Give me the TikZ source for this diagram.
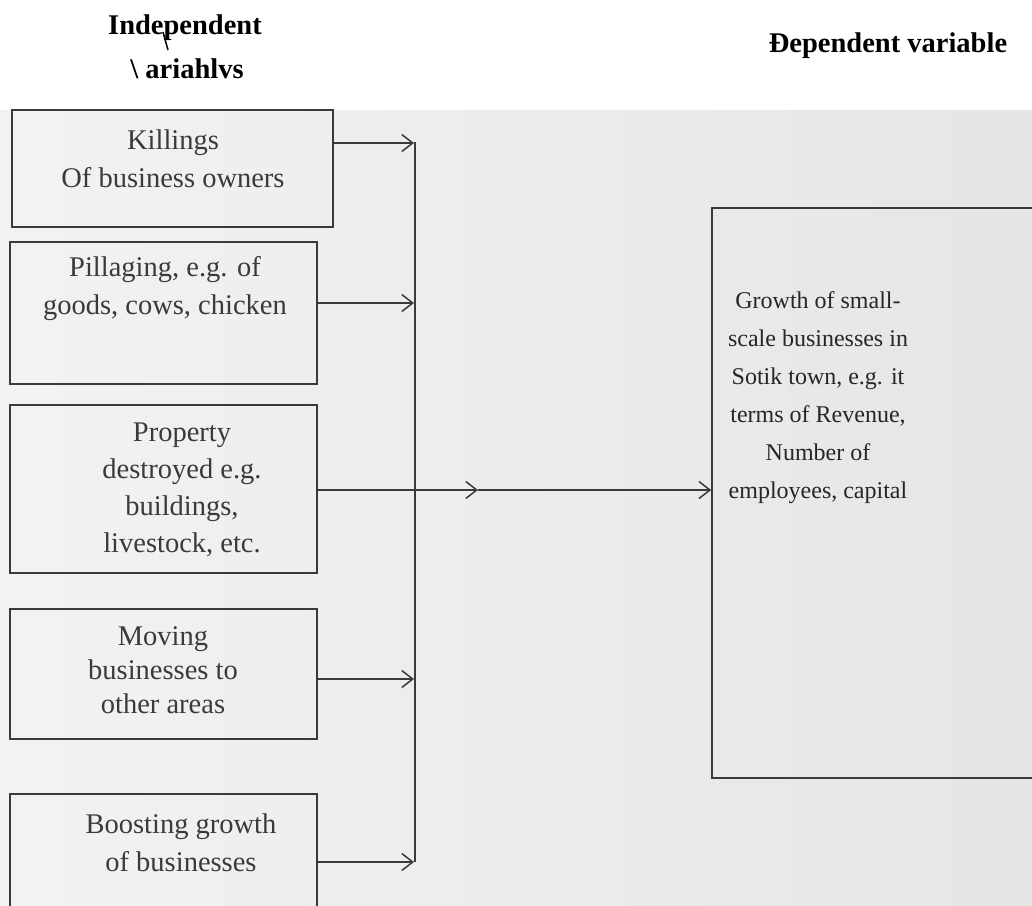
\documentclass[tikz,border=0pt]{standalone}
\usepackage{fontspec}
\setmainfont{Liberation Serif}
\usetikzlibrary{arrows.meta}
\definecolor{ink}{HTML}{3A3A3A}
\tikzset{
  boxshape/.style={draw=ink, line width=1.6pt, rectangle, inner sep=0pt},
  lefttext/.style={align=center, text=ink, font=\fontsize{28.5}{38}\selectfont},
  righttext/.style={align=center, text=black!85, font=\fontsize{24}{38}\selectfont},
  headtext/.style={align=center, text=black, font=\bfseries\fontsize{28.5}{42}\selectfont},
  arr/.style={draw=ink, line width=1.5pt, -{Straight Barb[length=11pt,width=17pt,line width=1.5pt]}},
  plainline/.style={draw=ink, line width=1.6pt}
}
\begin{document}
\begin{tikzpicture}[x=1pt,y=-1pt]
\useasboundingbox (0,0) rectangle (1032,905);
\clip (0,0) rectangle (1032,905);
\fill[white] (0,0) rectangle (1032,905);
\shade[left color=black!5, right color=black!10] (0,110) rectangle (1032,905);

% headers
\node[headtext] (h1) at (185,28) {Independent};
\node[headtext] (h2) at (187,69) {\textbackslash\ ariahlvs};
\draw[line width=1.5pt] (163,32) -- (168,50);
\node[headtext] (h3) at (888,46) {Đependent variable};

% boxes
\node[boxshape, minimum width=321pt, minimum height=117pt] (b1) at (172.5,168.5) {};
\node[boxshape, minimum width=307pt, minimum height=142pt] (b2) at (163.5,313) {};
\node[boxshape, minimum width=307pt, minimum height=168pt] (b3) at (163.5,489) {};
\node[boxshape, minimum width=307pt, minimum height=130pt] (b4) at (163.5,674) {};
\node[boxshape, minimum width=307pt, minimum height=140pt] (b5) at (163.5,864) {};
\node[boxshape, minimum width=340pt, minimum height=570pt] (dep) at (882,493) {};

% texts
\node[lefttext] (t1) at (173,159) {Killings\\Of business owners};
\node[lefttext] (t2) at (165,289) {Pillaging, e.g. of\\goods, cows, chicken};
\node[lefttext, font=\fontsize{28.5}{37}\selectfont] (t3) at (182,490) {Property\\destroyed e.g.\\buildings,\\livestock, etc.};
\node[lefttext, font=\fontsize{28.5}{34}\selectfont] (t4) at (163,670) {Moving\\businesses to\\other areas};
\node[lefttext] (t5) at (181,843) {Boosting growth\\of businesses};
\node[righttext] (td) at (818,398) {Growth of small-\\scale businesses in\\Sotik town, e.g. it\\terms of Revenue,\\Number of\\employees, capital};

% collector line
\coordinate (vtop) at (415,142);
\coordinate (vbot) at (415,862);
\draw[plainline] (vtop) -- (vbot);

\coordinate (a1) at (414,143);
\coordinate (a2) at (414,303);
\coordinate (a4) at (414,679);
\coordinate (a5) at (414,862);
\coordinate (m3) at (478,490);

\draw[arr] (b1.east |- a1) -- (a1);
\draw[arr] (b2.east |- a2) -- (a2);
\draw[arr] (b4.east |- a4) -- (a4);
\draw[arr] (b5.east |- a5) -- (a5);
\draw[arr] (b3.east |- m3) -- (m3);
\draw[arr] (m3) -- (dep.west |- m3);
\end{tikzpicture}
\end{document}
